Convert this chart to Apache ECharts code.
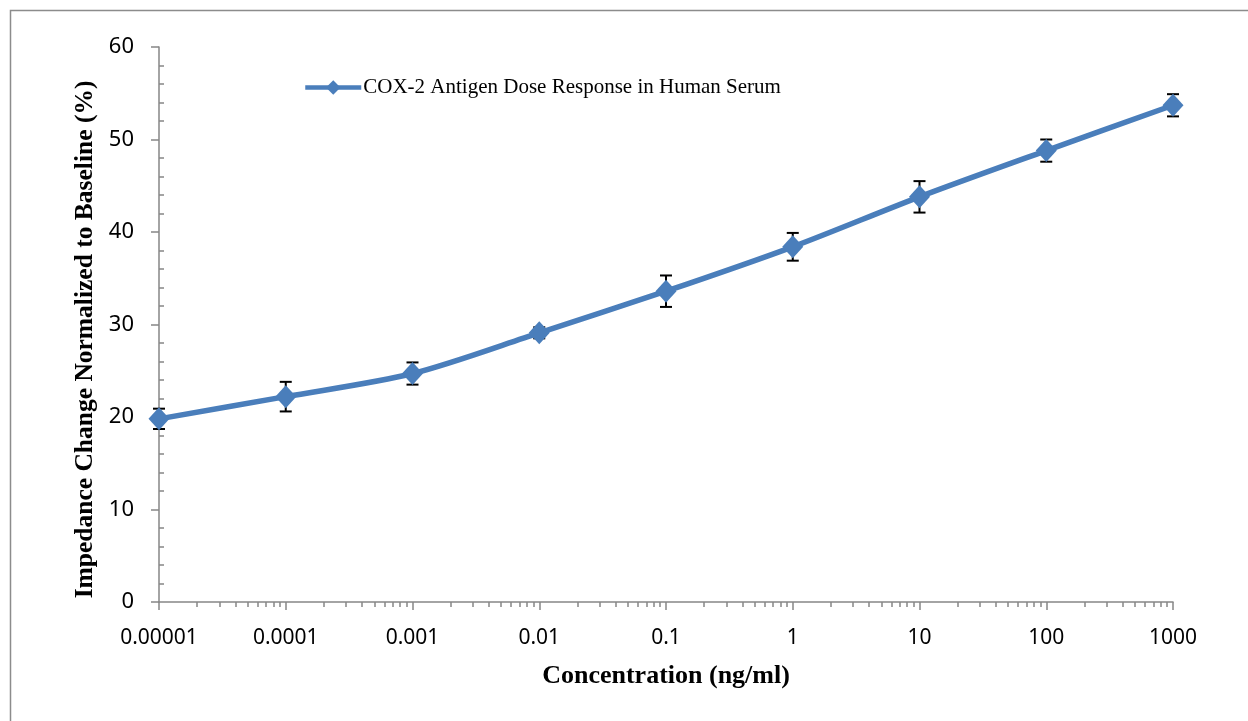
<!DOCTYPE html>
<html>
<head>
<meta charset="utf-8">
<title>COX-2 Antigen Dose Response</title>
<script src="https://cdn.jsdelivr.net/npm/echarts@6/dist/echarts.min.js"></script>
<style>
  html, body { margin: 0; padding: 0; background: #fff; }
  #chart { width: 1248px; height: 721px; }
</style>
</head>
<body>
<div id="chart"></div>
<script>
// Concentrations (ng/ml) and measured response with standard deviation
const concentrations = [0.00001, 0.0001, 0.001, 0.01, 0.1, 1, 10, 100, 1000];
const responses = [19.8, 22.2, 24.7, 29.1, 33.6, 38.4, 43.8, 48.8, 53.7];
const errors = [1.1, 1.6, 1.2, 0.6, 1.7, 1.5, 1.7, 1.2, 1.2];
const xTickLabels = ['0.00001', '0.0001', '0.001', '0.01', '0.1', '1', '10', '100', '1000'];
const yTickValues = [0, 10, 20, 30, 40, 50, 60];

const seriesName = 'COX-2 Antigen Dose Response in Human Serum';
const blue = '#4A7EBB';
const axisGray = '#868686';

// minor tick positions: 2..9 within each decade, and every 2 % on the y axis
const xMinor = [];
for (let k = -5; k < 3; k++) {
  for (let m = 2; m <= 9; m++) xMinor.push(+(m * Math.pow(10, k)).toPrecision(3));
}
const yMinor = [];
for (let v = 0; v <= 60; v += 2) if (v % 10 !== 0) yMinor.push(v);

const points = concentrations.map((c, i) => [c, responses[i]]);
const bars = concentrations.map((c, i) => [c, responses[i] - errors[i], responses[i] + errors[i]]);

const chart = echarts.init(document.getElementById('chart'));
chart.setOption({
  animation: false,
  backgroundColor: '#fff',
  grid: { left: 159, right: 75, top: 47, bottom: 119, containLabel: false },
  graphic: [{
    type: 'rect',
    shape: { x: 10.5, y: 10.5, width: 1400, height: 900 },
    style: { fill: 'none', stroke: '#8c8c8c', lineWidth: 1.5 },
    silent: true
  }],
  legend: {
    left: 298, top: 72,
    itemWidth: 56, itemHeight: 18,
    itemGap: 4,
    data: [seriesName],
    lineStyle: { width: 4.5 },
    textStyle: { fontFamily: 'Liberation Serif', fontSize: 21, color: '#000', padding: [0, 0, 0, -3] }
  },
  xAxis: [{
    type: 'log', logBase: 10, min: 0.00001, max: 1000,
    name: 'Concentration (ng/ml)', nameLocation: 'middle', nameGap: 61,
    nameTextStyle: { fontFamily: 'Liberation Serif', fontWeight: 'bold', fontSize: 26, color: '#000', verticalAlign: 'top' },
    axisLine: { show: true, onZero: false, lineStyle: { color: axisGray, width: 1.5 } },
    axisTick: { show: true, inside: false, length: 8, lineStyle: { color: axisGray, width: 1.5 } },
    axisLabel: {
      margin: 26, fontFamily: 'Noto Sans', fontSize: 21, color: '#000',
      formatter: v => xTickLabels[Math.round(Math.log10(v)) + 5]
    },
    splitLine: { show: false }
  }, {
    type: 'log', logBase: 10, min: 0.00001, max: 1000,
    axisLine: { show: false },
    axisTick: { show: true, inside: true, length: 5, customValues: xMinor, lineStyle: { color: axisGray, width: 1.5 } },
    axisLabel: { show: false },
    splitLine: { show: false }
  }],
  yAxis: [{
    type: 'value', min: 0, max: 60, interval: 10,
    name: 'Impedance Change Normalized to Baseline (%)', nameLocation: 'middle', nameGap: 58,
    nameTextStyle: { fontFamily: 'Liberation Serif', fontWeight: 'bold', fontSize: 25.5, color: '#000', padding: [0, 30, 0, 0] },
    axisLine: { show: true, lineStyle: { color: axisGray, width: 1.5 } },
    axisTick: { show: true, inside: false, length: 8, lineStyle: { color: axisGray, width: 1.5 } },
    axisLabel: { margin: 25, fontFamily: 'Noto Sans', fontSize: 22, color: '#000', customValues: yTickValues },
    splitLine: { show: false }
  }, {
    type: 'value', min: 0, max: 60, position: 'left',
    axisLine: { show: false },
    axisTick: { show: true, inside: true, length: 5, customValues: yMinor, lineStyle: { color: axisGray, width: 1.5 } },
    axisLabel: { show: false },
    splitLine: { show: false }
  }],
  series: [{
    name: 'error',
    type: 'custom',
    data: bars,
    z: 2,
    renderItem: function (params, api) {
      const x = api.value(0);
      const lo = api.coord([x, api.value(1)]);
      const hi = api.coord([x, api.value(2)]);
      const cap = 6;
      const style = { stroke: '#000', lineWidth: 2 };
      return {
        type: 'group',
        children: [
          { type: 'line', shape: { x1: lo[0], y1: lo[1], x2: hi[0], y2: hi[1] }, style },
          { type: 'line', shape: { x1: lo[0] - cap, y1: lo[1], x2: lo[0] + cap, y2: lo[1] }, style },
          { type: 'line', shape: { x1: hi[0] - cap, y1: hi[1], x2: hi[0] + cap, y2: hi[1] }, style }
        ]
      };
    }
  }, {
    name: seriesName,
    type: 'line',
    data: points,
    smooth: 0.3,
    symbol: 'diamond',
    symbolSize: [21, 23],
    lineStyle: { color: blue, width: 5.5 },
    itemStyle: { color: blue },
    z: 3
  }]
});
</script>
</body>
</html>
